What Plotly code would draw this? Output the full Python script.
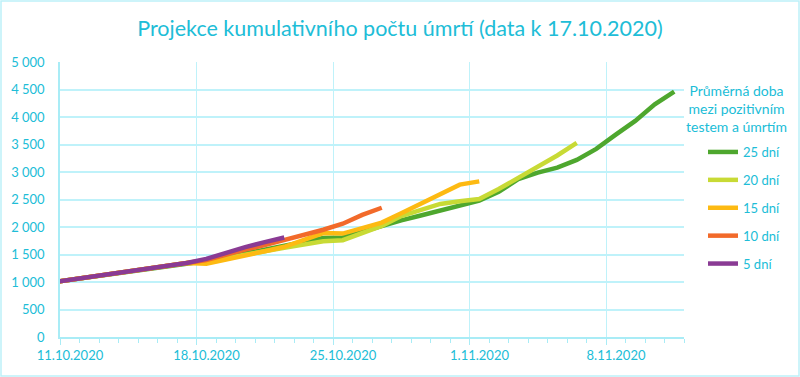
import plotly.graph_objects as go
import pandas as pd

# ---- data ----
history_dates = ["2020-10-10", "2020-10-11", "2020-10-12", "2020-10-13", "2020-10-14",
                 "2020-10-15", "2020-10-16", "2020-10-17"]
history_values = [990, 1040, 1090, 1140, 1190, 1235, 1275, 1345]

proj_start = "2020-10-18"

proj_25 = [1380, 1450, 1520, 1590, 1660, 1730, 1800, 1810, 1920, 2030, 2120, 2210, 2300,
           2370, 2480, 2640, 2870, 2990, 3080, 3220, 3420, 3680, 3930, 4230, 4460]
proj_20 = [1370, 1440, 1500, 1560, 1620, 1690, 1740, 1760, 1890, 2020, 2200, 2320, 2420,
           2470, 2510, 2690, 2890, 3090, 3300, 3530]
proj_15 = [1330, 1400, 1480, 1560, 1640, 1760, 1890, 1880, 1980, 2080, 2250, 2420, 2590,
           2770, 2830]
proj_10 = [1400, 1500, 1590, 1670, 1760, 1850, 1950, 2060, 2220, 2350]
proj_5 = [1420, 1530, 1635, 1725, 1810]

series_names = ["25 dní", "20 dní", "15 dní", "10 dní", "5 dní"]
series_proj = [proj_25, proj_20, proj_15, proj_10, proj_5]
series_colors = ["#4EA72E", "#C8DA35", "#FDBA12", "#F26A2A", "#8A3B94"]

week_labels = ["11.10.2020", "18.10.2020", "25.10.2020", "1.11.2020", "8.11.2020"]
week_boundaries = ["2020-10-10 12:00", "2020-10-17 12:00", "2020-10-24 12:00",
                   "2020-10-31 12:00", "2020-11-07 12:00"]
x_range = ["2020-10-10 12:00", "2020-11-11 12:00"]

legend_title = "Průměrná doba<br>mezi pozitivním<br>testem a úmrtím"
chart_title = "Projekce kumulativního počtu úmrtí (data k 17.10.2020)"

# ---- style ----
TXT = "#20BDD7"
GRID = "#BFF2FA"
AXIS = "#A9ECF6"
FONT = "Lato"

W, H = 800, 377
L, R, T, B = 60, 116, 62, 40
PW, PH = W - L - R, H - T - B

fig = go.Figure()
for name, proj, col in zip(series_names, series_proj, series_colors):
    pdates = pd.date_range(proj_start, periods=len(proj), freq="D").strftime("%Y-%m-%d").tolist()
    fig.add_trace(go.Scatter(
        x=history_dates + pdates,
        y=history_values + proj,
        mode="lines",
        name=name,
        legendgroup=name,
        line=dict(color=col, width=4.5),
        hoverinfo="skip",
    ))

fig.update_layout(
    width=W, height=H,
    margin=dict(l=L, r=R, t=T, b=B, pad=0),
    paper_bgcolor="white",
    plot_bgcolor="white",
    separators=", ",
    font=dict(family=FONT, color=TXT, size=13),
    title=dict(text=chart_title, x=0.5, xref="container", xanchor="center",
               y=1 - 28 / H, yanchor="middle",
               font=dict(family=FONT, size=21.5, color=TXT)),
    showlegend=True,
    legend=dict(
        x=(703 - L) / PW, xanchor="left",
        y=(H - B - 137) / PH, yanchor="top",
        bgcolor="rgba(0,0,0,0)",
        font=dict(family=FONT, size=13, color=TXT),
        tracegroupgap=8,
        itemwidth=30,
    ),
    xaxis=dict(
        type="date",
        range=x_range,
        tickmode="array",
        tickvals=week_boundaries,
        ticktext=week_labels,
        ticklabelshift=10,
        showgrid=True, gridcolor=GRID, gridwidth=1,
        showline=True, linecolor=AXIS, linewidth=1.5,
        ticks="outside", ticklen=6, tickcolor=AXIS,
        tickfont=dict(family=FONT, size=13, color=TXT),
        minor=dict(tick0="2020-10-10 12:00", dtick=86400000, ticks="outside",
                   ticklen=4, tickcolor=AXIS, showgrid=False),
        zeroline=False,
        fixedrange=True,
    ),
    yaxis=dict(
        range=[0, 5000],
        tickmode="linear", tick0=0, dtick=500,
        tickformat=",d",
        showgrid=True, gridcolor=GRID, gridwidth=1.5,
        showline=True, linecolor=AXIS, linewidth=1.5,
        ticks="", ticklabelstandoff=11,
        tickfont=dict(family=FONT, size=13, color=TXT),
        zeroline=False,
        fixedrange=True,
    ),
    annotations=[dict(
        text=legend_title,
        x=(736 - L) / PW, y=(H - B - 108) / PH,
        xref="paper", yref="paper",
        xanchor="center", yanchor="middle",
        align="center", showarrow=False,
        font=dict(family=FONT, size=14, color=TXT),
    )],
    shapes=[dict(
        type="rect", xref="paper", yref="paper", layer="below",
        x0=(1 - L) / PW, x1=(W - 1 - L) / PW,
        y0=(H - B - (H - 1)) / PH, y1=(H - B - 1) / PH,
        line=dict(color="#BDF1F9", width=1.5), fillcolor="rgba(0,0,0,0)",
    )],
)

fig.write_html("out.html")
